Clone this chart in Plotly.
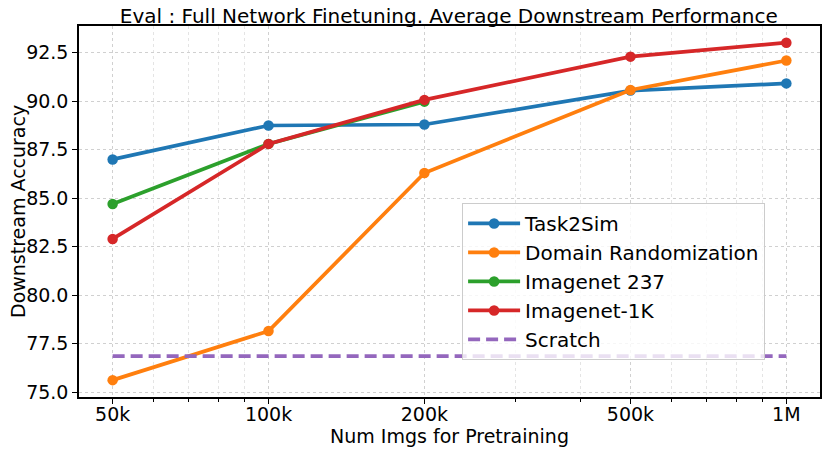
import plotly.graph_objects as go

# number of pretraining images
num_imgs = [50000, 100000, 200000, 500000, 1000000]
tick_text = ["50k", "100k", "200k", "500k", "1M"]

task2sim = [87.0, 88.75, 88.8, 90.55, 90.92]
domain_rand = [75.62, 78.15, 86.3, 90.58, 92.1]
imagenet_237 = [84.7, 87.8, 89.98]
imagenet_1k = [82.9, 87.8, 90.07, 92.3, 93.02]
scratch = [76.86] * len(num_imgs)

y_ticks = [75.0, 77.5, 80.0, 82.5, 85.0, 87.5, 90.0, 92.5]
minor_vals = [60000, 70000, 80000, 90000, 300000, 400000,
              600000, 700000, 800000, 900000]

colors = ["#1f77b4", "#ff7f0e", "#2ca02c", "#d62728", "#9467bd"]
FONT = "DejaVu Sans"

fig = go.Figure()

series = [
    ("Task2Sim", num_imgs, task2sim),
    ("Domain Randomization", num_imgs, domain_rand),
    ("Imagenet 237", num_imgs[:3], imagenet_237),
    ("Imagenet-1K", num_imgs, imagenet_1k),
]
for (name, xs, ys), c in zip(series, colors):
    fig.add_trace(go.Scatter(
        x=xs, y=ys, name=name, legendgroup=name, mode="lines+markers",
        line=dict(color=c, width=3.7),
        marker=dict(color=c, size=10.5),
    ))

fig.add_trace(go.Scatter(
    x=num_imgs, y=scratch, name="Scratch", legendgroup="Scratch", mode="lines",
    line=dict(color=colors[4], width=3.7, dash="12px,6px"),
))

axis_common = dict(
    showline=True, mirror=True, linecolor="black", linewidth=1.5,
    ticks="outside", ticklen=5, tickwidth=1.2, tickcolor="black",
    showgrid=True, gridcolor="#d0d0d0", griddash="dot", gridwidth=1,
    zeroline=False, automargin=False,
    tickfont=dict(family=FONT, size=19, color="black"),
)

# the page body adds an 8px offset, so margins are shifted to compensate
fig.update_layout(
    width=830, height=451,
    margin=dict(l=71, r=18, t=18, b=62),
    plot_bgcolor="white", paper_bgcolor="white",
    title=dict(
        text="Eval : Full Network Finetuning. Average Downstream Performance",
        x=0.531, xanchor="center", yref="paper", y=1.0, yanchor="bottom",
        pad=dict(b=3),
        font=dict(family=FONT, size=20, color="black"),
        automargin=False,
    ),
    xaxis=dict(
        type="log", range=[4.634, 6.065],
        tickmode="array", tickvals=num_imgs, ticktext=tick_text,
        ticklabelstandoff=-6,
        minor=dict(tickmode="array", tickvals=minor_vals, ticks="outside",
                   ticklen=3, tickcolor="black", showgrid=True,
                   gridcolor="#e4e4e4", griddash="dot"),
        title=dict(text="Num Imgs for Pretraining", standoff=0,
                   font=dict(family=FONT, size=19, color="black")),
        **axis_common,
    ),
    yaxis=dict(
        range=[74.75, 93.88],
        tickmode="array", tickvals=y_ticks,
        ticktext=[f"{v:.1f}" for v in y_ticks],
        **axis_common,
    ),
    legend=dict(
        x=0.517, y=0.523, xanchor="left", yanchor="top",
        bgcolor="rgba(255,255,255,0.8)", bordercolor="#cccccc", borderwidth=1,
        font=dict(family=FONT, size=20, color="black"),
        tracegroupgap=0, itemwidth=52,
    ),
)

# y axis title placed as an annotation so it can sit close to the tick labels
fig.add_annotation(
    text="Downstream Accuracy", textangle=-90, showarrow=False,
    xref="paper", yref="paper", x=-0.083, y=0.5,
    xanchor="center", yanchor="middle",
    font=dict(family=FONT, size=19, color="black"),
)

fig.write_html("out.html")
